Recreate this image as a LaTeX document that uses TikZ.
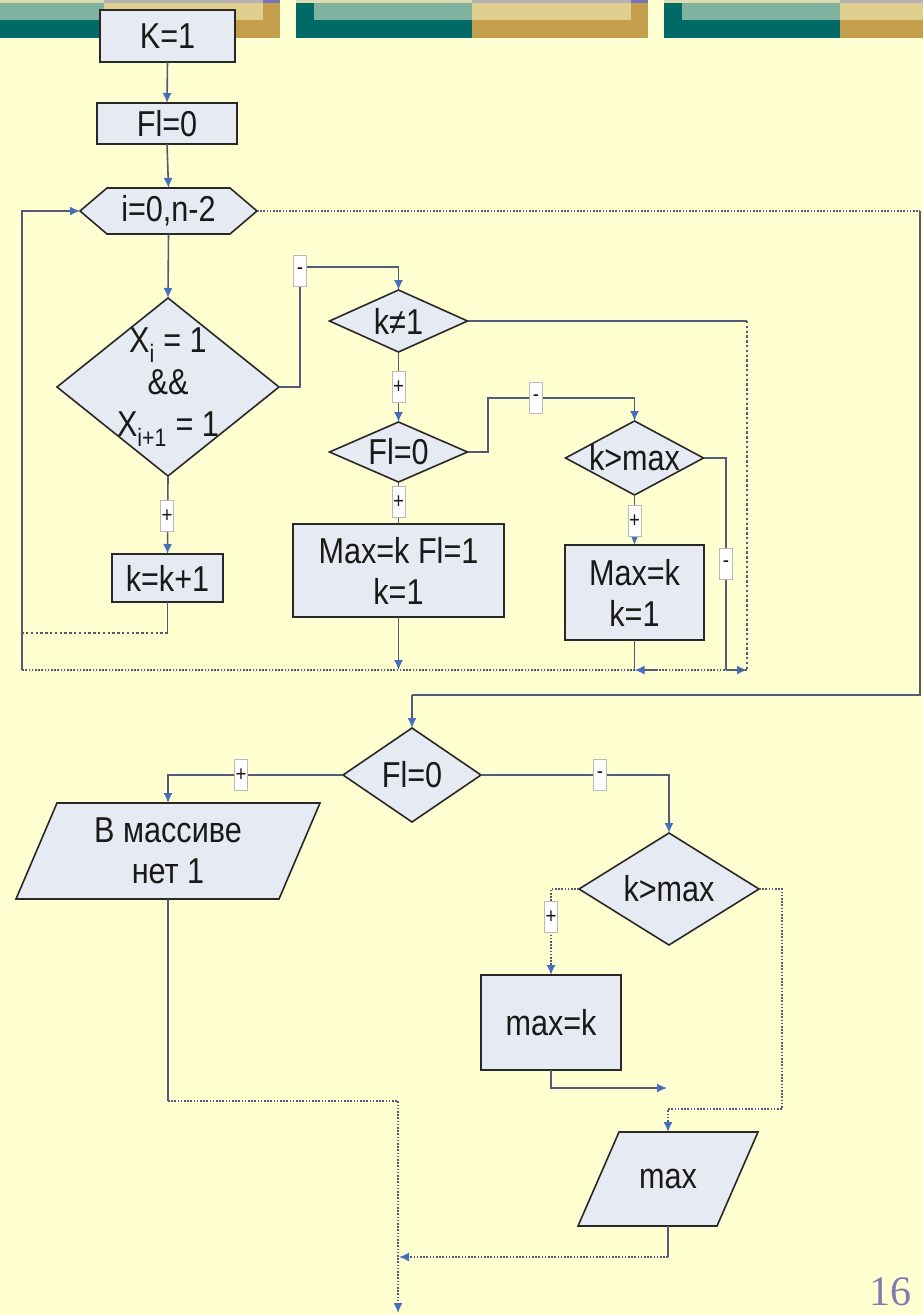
\documentclass[tikz,border=0pt]{standalone}
\usepackage{fontspec}
\setmainfont{Liberation Sans}[FakeStretch=0.85]
\newfontfamily\numfont{Liberation Serif}
\usetikzlibrary{shapes.geometric,arrows.meta,calc}
\definecolor{bgc}{RGB}{255,255,210}
\definecolor{nodef}{RGB}{230,234,242}
\definecolor{bordc}{RGB}{40,40,40}
\definecolor{linec}{RGB}{80,92,118}
\definecolor{arrc}{RGB}{70,110,190}
\definecolor{txtc}{RGB}{25,25,25}
\definecolor{numc}{RGB}{125,125,175}
\definecolor{dteal}{RGB}{0,106,102}
\definecolor{lteal}{RGB}{128,179,159}
\definecolor{ltan}{RGB}{224,206,144}
\definecolor{gold}{RGB}{195,158,75}
\definecolor{topb}{RGB}{221,219,176}
\definecolor{topg}{RGB}{181,178,181}
\definecolor{topp}{RGB}{115,115,181}
\begin{document}
\begin{tikzpicture}[x=1pt,y=-1pt,
  conn/.style={draw=linec, line width=1.6pt},
  dotc/.style={conn, dash pattern=on 1.6pt off 1.6pt},
  heavydot/.style={conn, line width=2.4pt, dash pattern=on 2.4pt off 2.4pt},
  arr/.style={-{Latex[length=10pt,width=9pt,color=arrc]}},
  nbox/.style={draw=bordc, fill=nodef, line width=1.6pt, inner sep=0pt, outer sep=0pt, font=\fontsize{36}{41}\selectfont, text=txtc, align=center},
  dec/.style={nbox, diamond},
  ghost/.style={inner sep=0pt, outer sep=0pt},
  shp/.style={draw=bordc, fill=nodef, line width=1.6pt},
  txt/.style={font=\fontsize{36}{41}\selectfont, text=txtc, align=center, inner sep=0pt},
  lab/.style={fill=white, draw=gray!55, line width=0.6pt, minimum width=13pt, minimum height=31pt, inner sep=0pt, font=\fontsize{22}{22}\selectfont, text=txtc}
]
\useasboundingbox (0,0) rectangle (923,1315);
\fill[bgc] (0,0) rectangle (923,1315);
% header bar
% section 1
\fill[topb] (0,0) rectangle (104,3);
\fill[topg] (104,0) rectangle (263,3);
\fill[topp] (263,0) rectangle (280,3);
\fill[lteal] (0,3) rectangle (104,20);
\fill[ltan] (104,3) rectangle (263,20);
\fill[gold] (263,3) rectangle (280,20);
\fill[dteal] (0,20) rectangle (104,38);
\fill[gold] (104,20) rectangle (280,38);
% section 2
\fill[topb] (296,0) rectangle (472,3);
\fill[topg] (472,0) rectangle (631,3);
\fill[topp] (631,0) rectangle (648,3);
\fill[dteal] (296,3) rectangle (314,20);
\fill[lteal] (314,3) rectangle (472,20);
\fill[ltan] (472,3) rectangle (631,20);
\fill[gold] (631,3) rectangle (648,20);
\fill[dteal] (296,20) rectangle (472,38);
\fill[gold] (472,20) rectangle (648,38);
% section 3
\fill[topb] (664,0) rectangle (840,3);
\fill[topg] (840,0) rectangle (923,3);
\fill[dteal] (664,3) rectangle (682,20);
\fill[lteal] (682,3) rectangle (840,20);
\fill[ltan] (840,3) rectangle (923,20);
\fill[dteal] (664,20) rectangle (840,38);
\fill[gold] (840,20) rectangle (923,38);

% ---- nodes ----
\node[nbox, minimum width=135pt, minimum height=52pt] (k1) at (167.5,36) {K=1};
\node[nbox, minimum width=140pt, minimum height=41pt] (fl0a) at (167,123.5) {Fl=0};
\node[ghost, minimum width=177pt, minimum height=46pt] (hex) at (168.5,211) {};
\path[shp] (hex.west) -- ($(hex.north west)+(27,0)$) -- ($(hex.north east)+(-27,0)$) -- (hex.east) -- ($(hex.south east)+(-27,0)$) -- ($(hex.south west)+(27,0)$) -- cycle;
\node[txt] (hext) at (hex) {i=0,n-2};
\node[dec, minimum width=222pt, minimum height=178pt] (d1) at (168,387) {};
\node[txt, font=\fontsize{36}{42}\selectfont] (d1t) at (d1) {X\textsubscript{i} = 1\\\&\&\\X\textsubscript{i+1} = 1};
\node[dec, minimum width=138pt, minimum height=62pt] (dk) at (398.5,321) {};
\node[txt] (dkt) at (dk) {k≠1};
\node[dec, minimum width=138pt, minimum height=60pt] (dfl) at (398.5,452) {};
\node[txt] (dflt) at (dfl) {Fl=0};
\node[dec, minimum width=138pt, minimum height=74pt] (dkm) at (634.5,458) {};
\node[txt] (dkmt) at (dkm) {k>max};
\node[nbox, minimum width=111pt, minimum height=48pt] (kk1) at (167.5,578) {k=k+1};
\node[nbox, minimum width=211pt, minimum height=93pt] (mx1) at (398.5,570.5) {Max=k Fl=1\\k=1};
\node[nbox, minimum width=139pt, minimum height=95pt] (mx2) at (634.5,592.5) {Max=k\\k=1};
\node[dec, minimum width=138pt, minimum height=94pt] (dfl2) at (412,775) {};
\node[txt] (dfl2t) at (dfl2) {Fl=0};
\node[ghost, minimum width=304pt, minimum height=96pt] (out1) at (168,851) {};
\path[shp] ($(out1.north west)+(41,0)$) -- (out1.north east) -- ($(out1.south east)+(-41,0)$) -- (out1.south west) -- cycle;
\node[txt] (out1t) at (out1) {В массиве\\нет 1};
\node[dec, minimum width=180pt, minimum height=112pt] (dkm2) at (669,889) {};
\node[txt] (dkm2t) at (dkm2) {k>max};
\node[nbox, minimum width=140pt, minimum height=95pt] (mxk) at (551,1022.5) {max=k};
\node[ghost, minimum width=180pt, minimum height=94pt] (out2) at (668,1179) {};
\path[shp] ($(out2.north west)+(41,0)$) -- (out2.north east) -- ($(out2.south east)+(-41,0)$) -- (out2.south west) -- cycle;
\node[txt] (out2t) at (out2) {max};

% ---- coordinates ----
\coordinate (c1) at (300,267);
\coordinate (c2) at (747,321);
\coordinate (jr) at (747,670);
\coordinate (jl) at (22,670);
\coordinate (c3) at (488,398);
\coordinate (c4) at (726,670);
\coordinate (j1) at (398.5,670);
\coordinate (j2) at (634.5,670);
\coordinate (j2a) at (658,670);
\coordinate (c5a) at (167.5,633);
\coordinate (c5) at (22,633);
\coordinate (h1) at (920,211);
\coordinate (h2) at (920,695);
\coordinate (h3) at (412,695);
\coordinate (b2) at (782,1109);
\coordinate (b3) at (667,1088);
\coordinate (b4) at (168,1101);
\coordinate (b5) at (398,1101);
\coordinate (b6) at (398,1313);
\coordinate (b7) at (668,1257);
\coordinate (b8) at (399,1257);

% ---- connectors ----
\draw[conn,arr] (k1.south) -- (fl0a.north);
\draw[conn,arr] (fl0a.south) -- (hex.north);
\draw[conn,arr] (hex.south) -- (d1.north);
\draw[conn,arr] (d1.east) -| (c1) -| (dk.north);
\draw[conn,arr] (dk.south) -- (dfl.north);
\draw[conn] (dk.east) -- (c2);
\draw[heavydot] (c2) -- (jr);
\draw[conn,arr] (dfl.east) -| (c3) -| (dkm.north);
\draw[conn] (dfl.south) -- (mx1.north);
\draw[conn,arr] (dkm.south) -- (mx2.north);
\draw[conn] (dkm.east) -| (c4);
\draw[conn,arr] (c4) -- (jr);
\draw[conn,arr] (d1.south) -- (kk1.north);
\draw[conn] (kk1.south) -- (c5a);
\draw[heavydot] (c5a) -- (c5);
\draw[conn,arr] (mx1.south) -- (j1);
\draw[conn] (mx2.south) -- (j2);
\draw[dotc] (jr) -- (jl);
\draw[conn,arr] (j2a) -- (j2);
\draw[conn] (jl) -- (c5);
\draw[conn,arr] (c5) |- (hex.west);
\draw[dotc] (hex.east) -- (h1);
\draw[conn] (h1) -- (h2) -- (h3);
\draw[conn,arr] (h3) -- (dfl2.north);
\draw[conn,arr] (dfl2.west) -| (out1.north);
\draw[conn,arr] (dfl2.east) -| (dkm2.north);
\draw[dotc,arr] (dkm2.west) -| (mxk.north);
\draw[dotc,arr] (dkm2.east) -| (b2) -| (out2.north);
\draw[conn,arr] (mxk.south) |- (b3);
\draw[conn] (out1.south) -- (b4);
\draw[dotc,arr] (b4) -- (b5) -- (b6);
\draw[conn] (out2.south) -- (b7);
\draw[dotc,arr] (b7) -- (b8);

% ---- branch labels ----
\node[lab] (l1) at (300,271) {-};
\node[lab] (l2) at (398.5,387) {+};
\node[lab] (l3) at (536,398) {-};
\node[lab] (l4) at (398.5,502) {+};
\node[lab] (l5) at (634.5,521) {+};
\node[lab] (l6) at (726,564) {-};
\node[lab] (l7) at (167,516) {+};
\node[lab] (l8) at (241,775) {+};
\node[lab] (l9) at (600,775) {-};
\node[lab] (l10) at (551,917) {+};

\node[anchor=base west, inner sep=0pt, font=\numfont\fontsize{42}{42}\selectfont, text=numc] (pg) at (869,1305) {16};
\end{tikzpicture}
\end{document}
